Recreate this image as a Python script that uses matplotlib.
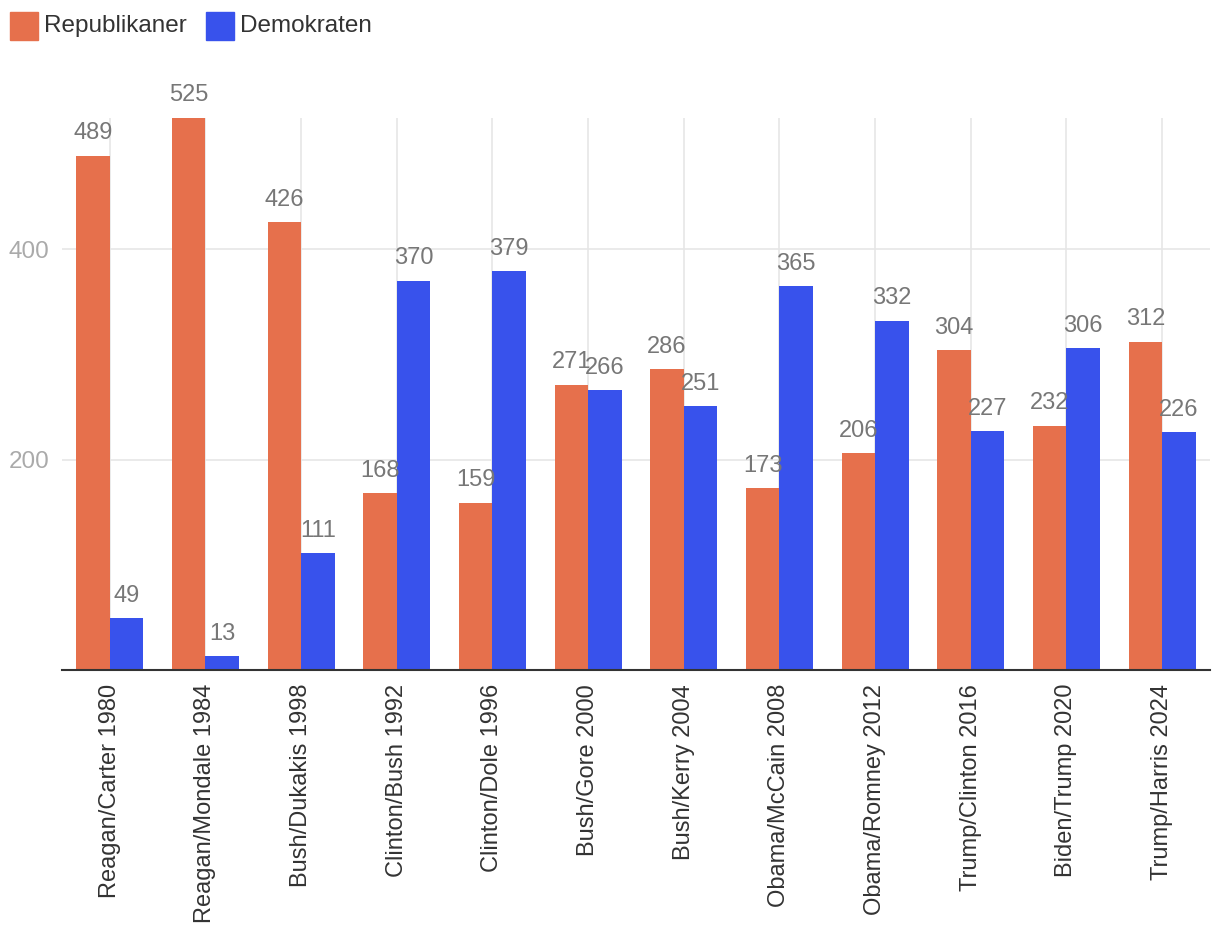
import matplotlib
matplotlib.use("Agg")
import matplotlib.pyplot as plt
from matplotlib.patches import Rectangle
import numpy as np

plt.rcParams['font.family'] = ['Liberation Sans', 'DejaVu Sans']

categories = ["Reagan/Carter 1980", "Reagan/Mondale 1984", "Bush/Dukakis 1998",
              "Clinton/Bush 1992", "Clinton/Dole 1996", "Bush/Gore 2000",
              "Bush/Kerry 2004", "Obama/McCain 2008", "Obama/Romney 2012",
              "Trump/Clinton 2016", "Biden/Trump 2020", "Trump/Harris 2024"]
republikaner = [489, 525, 426, 168, 159, 271, 286, 173, 206, 304, 232, 312]
demokraten = [49, 13, 111, 370, 379, 266, 251, 365, 332, 227, 306, 226]
y_ticks = [200, 400]

c_rep = '#E6704C'
c_dem = '#3852EC'

fig = plt.figure(figsize=(12.2, 9.44), dpi=100)
ax = fig.add_axes([0.0508, 0.2903, 0.941, 0.5847])

x = np.arange(len(categories))
w = 0.35
ax.bar(x - w / 2, republikaner, w, color=c_rep, zorder=2)
ax.bar(x + w / 2, demokraten, w, color=c_dem, zorder=2)

for i in range(len(categories)):
    ax.text(x[i] - w / 2, republikaner[i] + 11, str(republikaner[i]), ha='center', va='bottom',
            fontsize=17, color='#777777', zorder=3)
    ax.text(x[i] + w / 2, demokraten[i] + 11, str(demokraten[i]), ha='center', va='bottom',
            fontsize=17, color='#777777', zorder=3)

ax.set_xlim(-0.5, len(categories) - 0.5)
ax.set_ylim(0, 525)
ax.set_yticks(y_ticks)
ax.set_xticks(x)
ax.set_xticklabels(categories, rotation=90, fontsize=17, color='#333333')
ax.tick_params(axis='x', length=0, pad=10)
ax.tick_params(axis='y', length=0, pad=9, labelsize=17.5, labelcolor='#aaaaaa')
ax.grid(True, color='#e6e6e6', linewidth=1.2, zorder=0)

for s in ['top', 'right', 'left']:
    ax.spines[s].set_visible(False)
ax.spines['bottom'].set_color('#333333')
ax.spines['bottom'].set_linewidth(1.5)

# legend
fig.patches.append(Rectangle((10 / 1220, 1 - 40 / 944), 28 / 1220, 28 / 944,
                             transform=fig.transFigure, color=c_rep))
fig.text(44 / 1220, 1 - 26 / 944, "Republikaner", fontsize=17.5, color='#333333', va='center')
fig.patches.append(Rectangle((206 / 1220, 1 - 40 / 944), 28 / 1220, 28 / 944,
                             transform=fig.transFigure, color=c_dem))
fig.text(240 / 1220, 1 - 26 / 944, "Demokraten", fontsize=17.5, color='#333333', va='center')

fig.savefig("out.png", dpi=100)
